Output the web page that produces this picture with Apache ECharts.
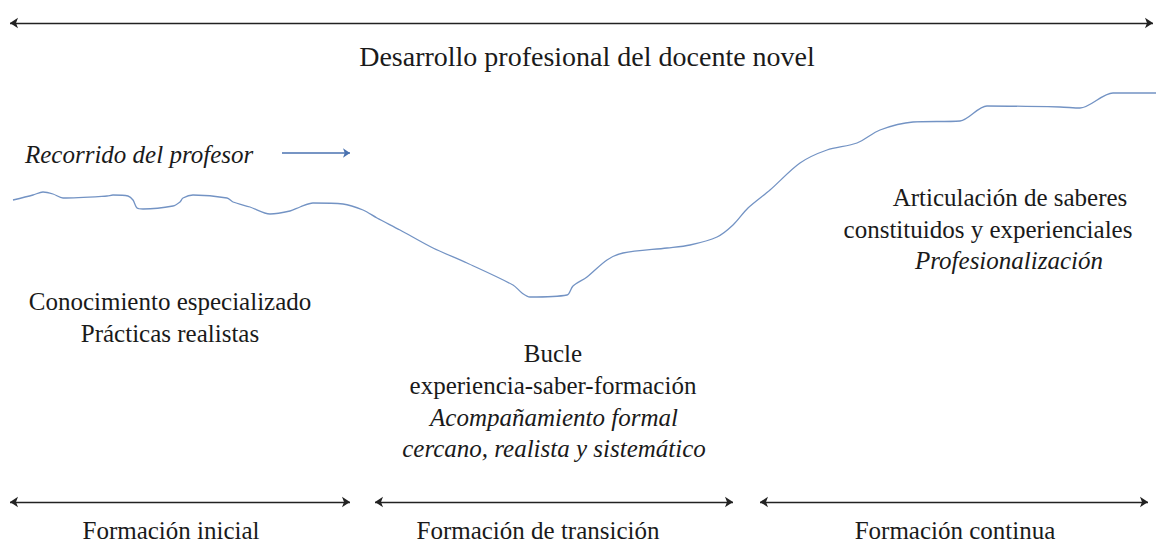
<!DOCTYPE html>
<html>
<head>
<meta charset="utf-8">
<script src="https://cdn.jsdelivr.net/npm/echarts@6/dist/echarts.min.js"></script>
<style>
  html, body { margin: 0; padding: 0; background: #fff; }
  #main { width: 1156px; height: 543px; }
</style>
</head>
<body>
<div id="main"></div>
<script>
// recorrido del profesor (x, y en unidades de la figura, y hacia abajo)
var pathX = [13, 33, 43, 53, 63, 107, 113, 128, 133, 137, 143, 173, 180, 183, 193, 227, 233, 250, 270, 290,
  300, 313, 343, 363, 377, 400, 433, 467, 513, 522, 530, 567, 573, 587, 607, 623, 667, 690, 717, 733,
  748, 770, 800, 827, 857, 880, 913, 960, 987, 1060, 1080, 1113, 1156];
var pathY = [200, 195, 192, 194, 198, 196, 195, 196, 200, 208, 209, 206, 202, 198, 195, 198, 202, 207, 214, 211,
  207, 203, 204, 210, 218, 230, 248, 263, 285, 293, 297, 295, 286, 277, 260, 253, 248, 245, 237, 225,
  208, 190, 163, 150, 143, 130, 122, 121, 106, 107, 108, 93, 93];

// fases de formación (inicio / fin de cada flecha)
var phases = ['Formación inicial', 'Formación de transición', 'Formación continua'];
var phaseStart = [10, 375, 760];
var phaseEnd = [350, 733, 1148];

var titleText = 'Desarrollo profesional del docente novel';
var legendText = 'Recorrido del profesor';

var FONT = '"Liberation Serif", "Times New Roman", serif';
var INK = '#1a1a1a';

var chart = echarts.init(document.getElementById('main'), null, { renderer: 'svg' });

function txt(s, x, y, size, italic, align) {
  return {
    type: 'text',
    x: x, y: y,
    silent: true,
    style: {
      text: s,
      font: (italic ? 'italic ' : '') + size + 'px ' + FONT,
      fill: INK,
      align: align || 'center',
      verticalAlign: 'middle'
    }
  };
}

var pathData = pathX.map(function (x, i) { return [x, pathY[i]]; });

var arrowLines = [{ coords: [[10, 23], [1153, 23]] }];
phases.forEach(function (p, i) {
  arrowLines.push({ coords: [[phaseStart[i], 502], [phaseEnd[i], 502]] });
});

var graphics = [
  txt(titleText, 587, 56, 28, false),
  txt(legendText, 25, 154, 25, true, 'left'),
  txt('Conocimiento especializado', 170, 301, 25, false),
  txt('Prácticas realistas', 170, 333, 25, false),
  txt('Bucle', 553, 353, 25, false),
  txt('experiencia-saber-formación', 553, 385, 25, false),
  txt('Acompañamiento formal', 554, 417, 25, true),
  txt('cercano, realista y sistemático', 554, 448, 25, true),
  txt('Articulación de saberes', 1010, 197, 25, false),
  // en el original queda cortado por el borde; se desplaza para que quepa
  txt('constituidos y experienciales', 988, 229, 25, false),
  txt('Profesionalización', 1009, 260, 25, true)
];
var phaseCenters = [171, 538, 955];
phases.forEach(function (p, i) {
  graphics.push(txt(p, phaseCenters[i], 530, 25, false));
});

chart.setOption({
  animation: false,
  backgroundColor: '#fff',
  grid: { left: 0, right: 0, top: 0, bottom: 0 },
  xAxis: { type: 'value', min: 0, max: 1156, show: false },
  yAxis: { type: 'value', min: 0, max: 543, inverse: true, show: false },
  graphic: graphics,
  series: [
    {
      type: 'line',
      data: pathData,
      showSymbol: false,
      smooth: 0.3,
      lineStyle: { color: '#7393c4', width: 1.3 }
    },
    {
      type: 'lines',
      coordinateSystem: 'cartesian2d',
      symbol: ['arrow', 'arrow'],
      symbolSize: 8,
      lineStyle: { color: '#222', width: 1.3, opacity: 1 },
      data: arrowLines
    },
    {
      type: 'lines',
      coordinateSystem: 'cartesian2d',
      symbol: ['none', 'arrow'],
      symbolSize: 7,
      lineStyle: { color: '#4a72b0', width: 1.5, opacity: 1 },
      data: [{ coords: [[282, 153], [350, 153]] }]
    }
  ]
});
</script>
</body>
</html>
